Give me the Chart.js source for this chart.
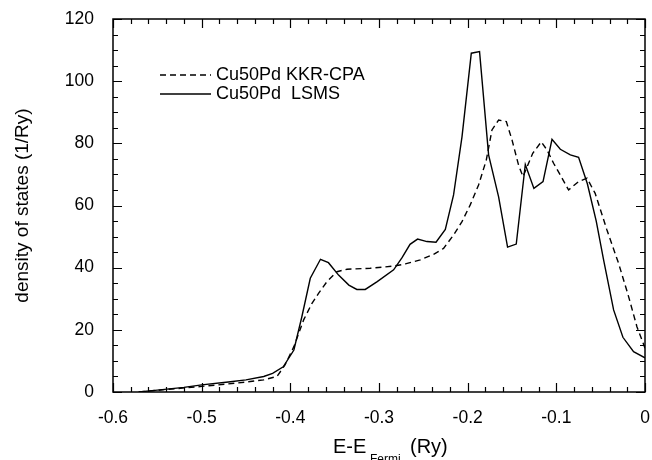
<!DOCTYPE html>
<html>
<head>
<meta charset="utf-8">
<script src="https://cdn.jsdelivr.net/npm/chart.js@4.4.1/dist/chart.umd.min.js"></script>
<style>
html,body{margin:0;padding:0;background:#fff;}
#wrap{width:652px;height:460px;position:relative;}
</style>
</head>
<body>
<div id="wrap"><canvas id="c" width="652" height="460"></canvas></div>
<script>
// ---- data ----
const lsmsX = [-0.571,-0.55,-0.52,-0.50,-0.47,-0.45,-0.43,-0.42,-0.408,-0.396,-0.387,-0.3775,-0.366,-0.357,-0.3456,-0.334,-0.325,-0.3155,-0.302,-0.2835,-0.274,-0.265,-0.2565,-0.2459,-0.2357,-0.2252,-0.2159,-0.2064,-0.1959,-0.1866,-0.1764,-0.1651,-0.155,-0.1452,-0.135,-0.1253,-0.115,-0.1049,-0.0955,-0.0842,-0.0749,-0.065,-0.055,-0.0467,-0.0354,-0.0249,-0.0129,0];
const lsmsY = [0,0.6,1.5,2.3,3.2,3.9,5.0,6.0,8.1,13.5,24.2,36.6,42.7,41.6,37.6,34.4,33.0,33.0,35.5,39.3,43.2,47.5,49.2,48.4,48.2,52.3,63.4,82.1,109.0,109.5,76.3,62.8,46.6,47.6,73.2,65.5,67.7,81.3,78.1,76.3,75.5,67.0,55.0,42.5,26.4,17.6,13.0,11.0];
const kkrX = [-0.571,-0.54,-0.50,-0.47,-0.45,-0.43,-0.415,-0.406,-0.396,-0.385,-0.3756,-0.368,-0.3587,-0.3474,-0.3361,-0.31,-0.2835,-0.2703,-0.2534,-0.2384,-0.2272,-0.2159,-0.2064,-0.1971,-0.1877,-0.179,-0.1726,-0.1651,-0.1564,-0.15,-0.1426,-0.1376,-0.1266,-0.117,-0.1106,-0.1031,-0.0955,-0.0862,-0.0749,-0.0654,-0.0562,-0.0429,-0.0298,-0.0185,-0.0091,0];
const kkrY = [0,0.8,1.8,2.6,3.2,3.9,5.0,8.7,14.6,23.2,28.5,31.8,35.5,38.7,39.5,39.8,40.5,41.2,42.5,44.3,46.2,50.5,54.8,60.2,66.6,74.6,84.3,87.5,87.0,81.1,73.0,69.3,76.8,80.5,77.9,73.6,69.8,65.0,67.7,68.8,63.9,52.1,41.4,30.7,21.0,14.1];
const seriesNames = ['Cu50Pd KKR-CPA', 'Cu50Pd  LSMS'];
const xTickValues = [-0.6,-0.5,-0.4,-0.3,-0.2,-0.1,0];
const xTickLabels = ['-0.6','-0.5','-0.4','-0.3','-0.2','-0.1','0'];
const yTickValues = [0,20,40,60,80,100,120];
const yTickLabels = ['0','20','40','60','80','100','120'];
const yTitle = 'density of states (1/Ry)';
const xTitleParts = ['E-E', 'Fermi', '(Ry)'];

const FONT = "'Liberation Sans', Arial, Helvetica, sans-serif";

const toPts = (xs, ys) => xs.map((x, i) => ({x: x, y: ys[i]}));

const framePlugin = {
  id: 'frameTicks',
  afterDraw(chart) {
    const {ctx, chartArea: a, scales: {x, y}} = chart;
    ctx.save();
    ctx.strokeStyle = '#000';
    ctx.lineWidth = 1.5;
    ctx.strokeRect(a.left, a.top, a.right - a.left, a.bottom - a.top);
    ctx.lineWidth = 1.2;
    ctx.beginPath();
    // x ticks (minor every 0.02, major every 0.1)
    const xMinorN = Math.round((x.max - x.min) / 0.02);
    for (let i = 0; i <= xMinorN; i++) {
      const v = x.min + i * 0.02;
      const px = Math.round(x.getPixelForValue(v)) + 0.5;
      const len = (i % 5 === 0) ? 9 : 5;
      ctx.moveTo(px, a.bottom); ctx.lineTo(px, a.bottom - len);
      ctx.moveTo(px, a.top); ctx.lineTo(px, a.top + len);
    }
    // y ticks (minor every 5, major every 20)
    const yMinorN = Math.round((y.max - y.min) / 5);
    for (let i = 0; i <= yMinorN; i++) {
      const v = y.min + i * 5;
      const py = Math.round(y.getPixelForValue(v)) + 0.5;
      const len = (i % 4 === 0) ? 9 : 5;
      ctx.moveTo(a.left, py); ctx.lineTo(a.left + len, py);
      ctx.moveTo(a.right, py); ctx.lineTo(a.right - len, py);
    }
    ctx.stroke();

    // legend
    const ds = chart.data.datasets;
    const rows = [75, 94];
    ds.forEach((d, i) => {
      ctx.save();
      ctx.strokeStyle = d.borderColor;
      ctx.lineWidth = d.borderWidth;
      ctx.setLineDash(d.borderDash || []);
      ctx.beginPath();
      ctx.moveTo(160, rows[i]); ctx.lineTo(211, rows[i]);
      ctx.stroke();
      ctx.restore();
      ctx.fillStyle = '#000';
      ctx.font = '18px ' + FONT;
      ctx.textAlign = 'left';
      ctx.textBaseline = 'middle';
      ctx.fillText(d.label, 216, rows[i]);
    });

    // x axis title with subscript
    ctx.fillStyle = '#000';
    ctx.textAlign = 'left';
    ctx.textBaseline = 'alphabetic';
    ctx.font = '20px ' + FONT;
    ctx.fillText(xTitleParts[0], 333, 453);
    ctx.font = '12px ' + FONT;
    ctx.fillText(xTitleParts[1], 370, 463);
    ctx.font = '20px ' + FONT;
    ctx.fillText(xTitleParts[2], 410, 453);
    ctx.restore();
  }
};

const zeroPad = (s) => { s.paddingLeft = 0; s.paddingRight = 0; s.paddingTop = 0; s.paddingBottom = 0; };

new Chart(document.getElementById('c'), {
  type: 'line',
  data: {
    datasets: [
      {label: seriesNames[0], data: toPts(kkrX, kkrY), borderColor: '#000', borderWidth: 1.4, borderDash: [6, 4], pointRadius: 0, tension: 0, fill: false},
      {label: seriesNames[1], data: toPts(lsmsX, lsmsY), borderColor: '#000', borderWidth: 1.4, pointRadius: 0, tension: 0, fill: false}
    ]
  },
  options: {
    responsive: false,
    animation: false,
    devicePixelRatio: 1,
    layout: {padding: {left: 0, top: 19, right: 7, bottom: 0}},
    plugins: {legend: {display: false}, tooltip: {enabled: false}},
    scales: {
      x: {
        type: 'linear', min: -0.6, max: 0,
        grid: {display: false, drawTicks: false},
        border: {display: false},
        afterBuildTicks: (s) => { s.ticks = xTickValues.map(v => ({value: v})); },
        afterFit: (s) => { s.height = 68; zeroPad(s); },
        ticks: {
          autoSkip: false, maxRotation: 0, padding: 16, color: '#000',
          font: {family: FONT, size: 17.5},
          callback: (v, i) => xTickLabels[i]
        }
      },
      y: {
        type: 'linear', min: 0, max: 120,
        grid: {display: false, drawTicks: false},
        border: {display: false},
        afterBuildTicks: (s) => { s.ticks = yTickValues.map(v => ({value: v})); },
        afterFit: (s) => { s.width = 113; zeroPad(s); },
        ticks: {
          autoSkip: false, padding: 19, color: '#000',
          font: {family: FONT, size: 17.5},
          callback: (v, i) => yTickLabels[i]
        },
        title: {display: true, text: yTitle, color: '#000', font: {family: FONT, size: 19}, padding: {top: 11, bottom: 0}}
      }
    }
  },
  plugins: [framePlugin]
});
</script>
</body>
</html>
